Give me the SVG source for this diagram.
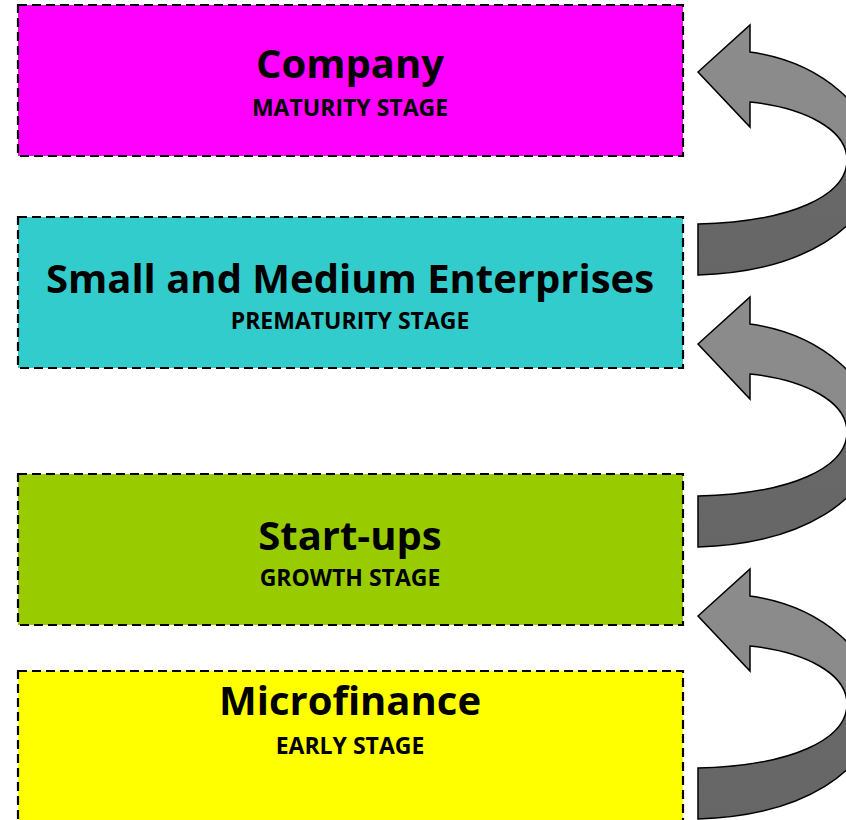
<svg xmlns="http://www.w3.org/2000/svg" width="846" height="820" viewBox="0 0 846 820">
<style>
.box{stroke:#000;stroke-width:2.2;stroke-dasharray:9 5}
.t{font-family:"Open Sans","Liberation Sans",sans-serif;font-weight:bold;fill:#000;text-anchor:middle}
.title{font-size:40px}
.sub{font-size:23px}
.arr{fill:url(#g);stroke:#000;stroke-width:1.5;stroke-linejoin:miter}
</style>
<defs>
<linearGradient id="g" gradientUnits="userSpaceOnUse" x1="0" y1="25" x2="0" y2="275">
<stop offset="0" stop-color="#8c8c8c"/>
<stop offset="0.45" stop-color="#8a8a8a"/>
<stop offset="0.56" stop-color="#686868"/>
<stop offset="1" stop-color="#666666"/>
</linearGradient>
<path id="ca" d="M698,72 L750,25 L750,52 C822,62 876,110 876,162 C876,228 800,272 698,275 L698,224 C790,222 847,196 847,160 C847,130 806,108 750,102 L750,127 Z"/>
</defs>
<g id="node-company">
<rect class="box" x="18" y="5" width="665" height="151" fill="#FF00FF"/>
<text class="t title" x="350" y="78">Company</text>
<text class="t sub" x="350" y="116">MATURITY STAGE</text>
</g>
<g id="node-sme">
<rect class="box" x="18" y="217" width="665" height="151" fill="#33CCCC"/>
<text class="t title" x="350" y="293">Small and Medium Enterprises</text>
<text class="t sub" x="350" y="329">PREMATURITY STAGE</text>
</g>
<g id="node-startups">
<rect class="box" x="18" y="474" width="665" height="151" fill="#99CC00"/>
<text class="t title" x="350" y="550">Start-ups</text>
<text class="t sub" x="350" y="586">GROWTH STAGE</text>
</g>
<g id="node-microfinance">
<rect class="box" x="18" y="671" width="665" height="151" fill="#FFFF00"/>
<text class="t title" x="350" y="715">Microfinance</text>
<text class="t sub" x="350" y="754">EARLY STAGE</text>
</g>
<g id="connectors">
<use href="#ca" class="arr"/>
<use href="#ca" class="arr" transform="translate(0,272)"/>
<use href="#ca" class="arr" transform="translate(0,544)"/>
</g>
</svg>
